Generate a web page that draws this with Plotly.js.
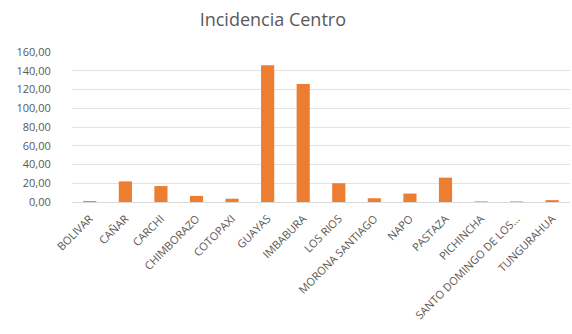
<!DOCTYPE html>
<html><head><meta charset="utf-8">
<script src="https://cdn.plot.ly/plotly-3.0.1.min.js"></script>
<style>html,body{margin:0;padding:0;background:#fff}#c{width:572px;height:334px}</style>
</head><body><div id="c"></div>
<script>
const categories = ["BOLIVAR","CAÑAR","CARCHI","CHIMBORAZO","COTOPAXI","GUAYAS","IMBABURA","LOS RIOS","MORONA SANTIAGO","NAPO","PASTAZA","PICHINCHA","SANTO DOMINGO DE LOS...","TUNGURAHUA"];
const values = [1.0, 22.0, 17.0, 6.5, 3.5, 146.0, 126.0, 20.0, 4.0, 9.0, 26.0, 0.6, 0.6, 2.0];
const yTicks = [0,20,40,60,80,100,120,140,160];

Plotly.newPlot('c', [{
  type:'bar', x:categories, y:values,
  marker:{color:'#ED7D31'}, hoverinfo:'none'
}], {
  width:572, height:334,
  margin:{l:72, r:2, t:52, b:132},
  paper_bgcolor:'#fff', plot_bgcolor:'#fff',
  separators:',.',
  bargap:0.63,
  title:{text:'Incidencia Centro', x:0.477, xanchor:'center', y:0.94, yanchor:'middle',
         font:{family:'Open Sans, sans-serif', size:18, color:'#595959'}},
  font:{family:'Open Sans, sans-serif', color:'#595959'},
  xaxis:{tickangle:-45, tickfont:{size:11, color:'#595959'}, showgrid:false,
         showline:true, linecolor:'#d9d9d9', ticks:'outside', ticklen:5,
         tickcolor:'rgba(0,0,0,0)', automargin:false},
  yaxis:{range:[0,160], tickvals:yTicks, tickformat:'.2f', tickfont:{size:11, color:'#595959'},
         showgrid:true, gridcolor:'#e3e3e3', zeroline:false, showline:false,
         ticks:'outside', ticklen:18, tickcolor:'rgba(0,0,0,0)', automargin:false},
  showlegend:false
}, {displayModeBar:false, staticPlot:true});
</script></body></html>
